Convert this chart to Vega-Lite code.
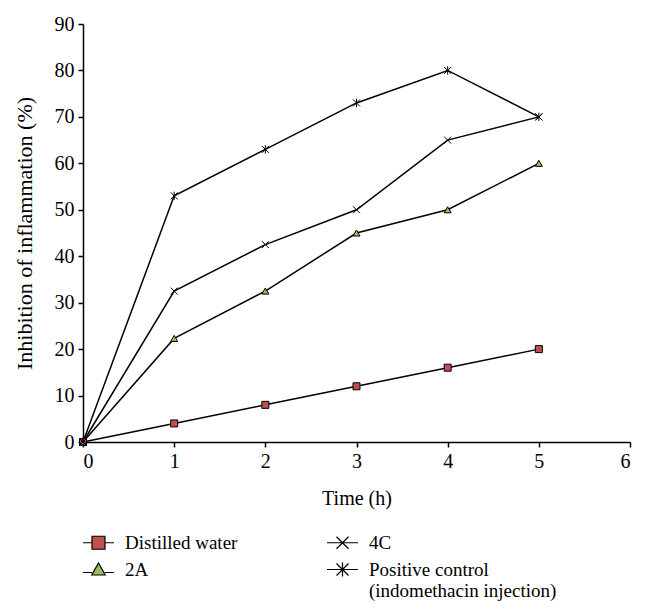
{
  "$schema": "https://vega.github.io/schema/vega-lite/v6.json",
  "width": 547,
  "height": 418,
  "autosize": {"type": "none"},
  "padding": {"left": 83, "top": 24, "right": 16, "bottom": 172},
  "background": "white",
  "config": {
    "view": {"stroke": null},
    "font": "Liberation Serif",
    "axis": {
      "domainColor": "black", "domainWidth": 1.5, "tickColor": "black", "tickWidth": 1.5, "tickSize": 5,
      "labelFont": "Liberation Serif", "labelFontSize": 20, "labelColor": "black", "labelOverlap": false,
      "titleFont": "Liberation Serif", "titleFontSize": 20, "titleFontWeight": "normal", "titleColor": "black",
      "grid": false
    },
    "legend": {
      "title": null, "orient": "none", "legendX": 6, "legendY": 509, "columns": 2,
      "direction": "horizontal", "padding": 0,
      "symbolSize": 100, "symbolStrokeWidth": 1.2, "symbolOpacity": 1,
      "labelFont": "Liberation Serif", "labelFontSize": 19, "labelColor": "black", "labelOffset": 17, "labelLimit": 300,
      "columnPadding": 86, "rowPadding": 7
    }
  },
  "data": {
    "values": [
      {"time": 0, "series": "Distilled water", "value": 0},
      {"time": 1, "series": "Distilled water", "value": 4},
      {"time": 2, "series": "Distilled water", "value": 8},
      {"time": 3, "series": "Distilled water", "value": 12},
      {"time": 4, "series": "Distilled water", "value": 16},
      {"time": 5, "series": "Distilled water", "value": 20},
      {"time": 0, "series": "2A", "value": 0},
      {"time": 1, "series": "2A", "value": 22.3},
      {"time": 2, "series": "2A", "value": 32.5},
      {"time": 3, "series": "2A", "value": 45},
      {"time": 4, "series": "2A", "value": 50},
      {"time": 5, "series": "2A", "value": 60},
      {"time": 0, "series": "4C", "value": 0},
      {"time": 1, "series": "4C", "value": 32.5},
      {"time": 2, "series": "4C", "value": 42.5},
      {"time": 3, "series": "4C", "value": 50},
      {"time": 4, "series": "4C", "value": 65},
      {"time": 5, "series": "4C", "value": 70},
      {"time": 0, "series": "Positive control", "value": 0},
      {"time": 1, "series": "Positive control", "value": 53},
      {"time": 2, "series": "Positive control", "value": 63},
      {"time": 3, "series": "Positive control", "value": 73},
      {"time": 4, "series": "Positive control", "value": 80},
      {"time": 5, "series": "Positive control", "value": 70}
    ]
  },
  "encoding": {
    "x": {"field": "time", "type": "quantitative", "scale": {"domain": [0, 6], "nice": false},
      "axis": {"title": "Time (h)", "values": [0,1,2,3,4,5,6], "labelPadding": 4, "titlePadding": 17}},
    "y": {"field": "value", "type": "quantitative", "scale": {"domain": [0, 90], "nice": false},
      "axis": {"title": "Inhibition of inflammation (%)", "titleFontSize": 22, "values": [0,10,20,30,40,50,60,70,80,90], "labelPadding": 4, "titlePadding": 18}}
  },
  "layer": [
    {
      "mark": {"type": "line", "color": "black", "strokeWidth": 1.5},
      "encoding": {"detail": {"field": "series"}}
    },
    {
      "mark": {"type": "point", "filled": false, "strokeWidth": 1, "stroke": "black", "opacity": 1, "size": 49},
      "encoding": {
        "shape": {"field": "series", "type": "nominal",
          "scale": {"domain": ["Distilled water", "4C", "2A", "Positive control"],
                    "range": ["square", "M-1,-1L1,1M-1,1L1,-1", "triangle-up", "M-1,-1L1,1M-1,1L1,-1M0,-1.2V1.2"]},
          "legend": null
        },
        "fill": {"field": "series", "type": "nominal",
          "scale": {"domain": ["Distilled water", "4C", "2A", "Positive control"],
                    "range": ["#c0504d", "transparent", "#9bbb59", "transparent"]},
          "legend": null}
      }
    },
    {
      "transform": [{"filter": "datum.time < 0"}],
      "mark": {"type": "point", "filled": false, "strokeWidth": 1.2, "opacity": 1, "size": 100},
      "encoding": {
        "shape": {"field": "series", "type": "nominal",
          "scale": {"domain": ["Distilled water", "4C", "2A", "Positive control"],
                    "range": ["M-3.1,0H-1.3M1.3,0H3.1M-1.3,-1.3H1.3V1.3H-1.3Z", "M-3.1,0H3.1M-1.2,-1.2L1.2,1.2M-1.2,1.2L1.2,-1.2", "M-3.1,0.6H-1.3M1.3,0.6H3.1M0,-1.3L1.35,1.1H-1.35Z", "M-3.1,0H3.1M-1.2,-1.2L1.2,1.2M-1.2,1.2L1.2,-1.2M0,-1.4V1.4"]},
          "legend": {"labelExpr": "datum.label == 'Positive control' ? ['Positive control', '(indomethacin injection)'] : datum.label"}
        },
        "stroke": {"field": "series", "type": "nominal",
          "scale": {"domain": ["Distilled water", "4C", "2A", "Positive control"],
                    "range": ["black", "black", "black", "black"]},
          "legend": {"labelExpr": "datum.label == 'Positive control' ? ['Positive control', '(indomethacin injection)'] : datum.label"}
        },
        "fill": {"field": "series", "type": "nominal",
          "scale": {"domain": ["Distilled water", "4C", "2A", "Positive control"],
                    "range": ["#c0504d", "transparent", "#9bbb59", "transparent"]},
          "legend": {"labelExpr": "datum.label == 'Positive control' ? ['Positive control', '(indomethacin injection)'] : datum.label"}
        }
      }
    }
  ],
  "resolve": {"scale": {"shape": "independent", "fill": "independent", "stroke": "independent"}}
}
